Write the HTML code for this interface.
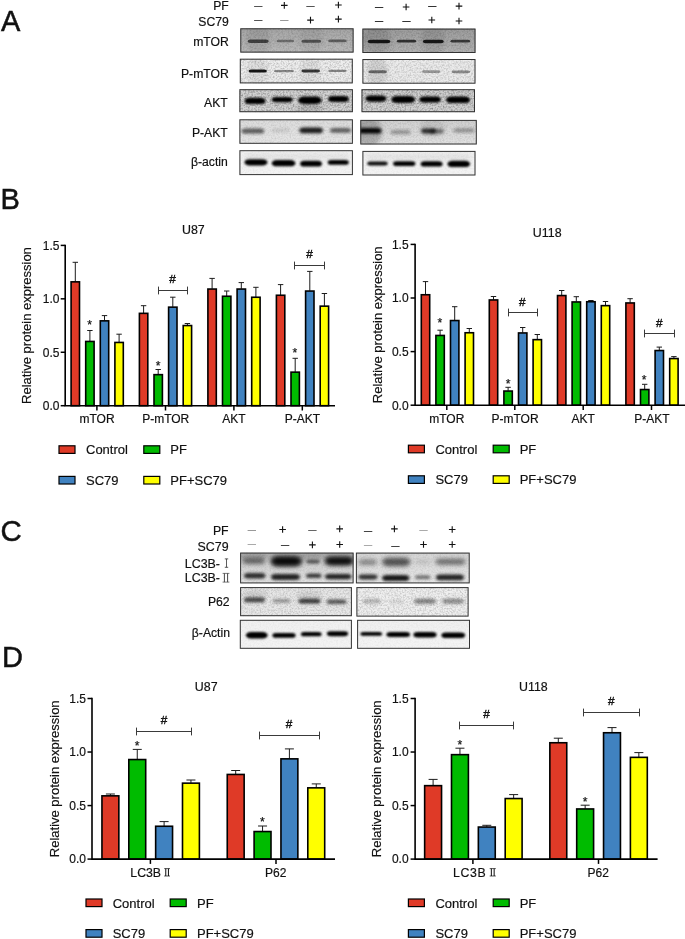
<!DOCTYPE html>
<html><head><meta charset="utf-8"><title>Figure</title>
<style>html,body{margin:0;padding:0;background:#fff;}body{width:685px;height:939px;overflow:hidden;font-family:"Liberation Sans",sans-serif;}svg{display:block;will-change:transform;}</style>
</head><body>
<svg width="685" height="939" viewBox="0 0 685 939" font-family="Liberation Sans, sans-serif">
<defs>
<filter id="bl0_5" x="-30%" y="-100%" width="160%" height="300%"><feGaussianBlur stdDeviation="0.5"/></filter>
<filter id="bl0_8" x="-30%" y="-100%" width="160%" height="300%"><feGaussianBlur stdDeviation="0.8"/></filter>
<filter id="bl1_2" x="-30%" y="-100%" width="160%" height="300%"><feGaussianBlur stdDeviation="1.2"/></filter>
<filter id="bl1_6" x="-30%" y="-100%" width="160%" height="300%"><feGaussianBlur stdDeviation="1.6"/></filter>
<filter id="bl2_2" x="-30%" y="-100%" width="160%" height="300%"><feGaussianBlur stdDeviation="2.2"/></filter>
<filter id="nz" x="0" y="0" width="100%" height="100%" color-interpolation-filters="sRGB"><feTurbulence type="fractalNoise" baseFrequency="0.6" numOctaves="2" seed="5"/><feColorMatrix type="matrix" values="0 0 0 0 0  0 0 0 0 0  0 0 0 0 0  1.1 0 0 0 -0.42"/></filter>
</defs>
<rect width="685" height="939" fill="#fff"/>
<text x="228.8" y="9.6" font-size="12.2" text-anchor="end" fill="#111" stroke="#111" stroke-width="0.18">PF</text>
<text x="228.8" y="26.1" font-size="12.2" text-anchor="end" fill="#111" stroke="#111" stroke-width="0.18">SC79</text>
<text x="228.8" y="45.7" font-size="12.2" text-anchor="end" fill="#111" stroke="#111" stroke-width="0.18">mTOR</text>
<text x="228.8" y="78.3" font-size="12.2" text-anchor="end" fill="#111" stroke="#111" stroke-width="0.18">P-mTOR</text>
<text x="227.8" y="107.3" font-size="12.2" text-anchor="end" fill="#111" stroke="#111" stroke-width="0.18">AKT</text>
<text x="227.8" y="137.3" font-size="12.2" text-anchor="end" fill="#111" stroke="#111" stroke-width="0.18">P-AKT</text>
<text x="227.8" y="165.6" font-size="12.2" text-anchor="end" fill="#111" stroke="#111" stroke-width="0.18">β-actin</text>
<path d="M254.1 6.5H262.5" stroke="#555" stroke-width="1"/>
<path d="M281.0 5.4H287.6M284.3 2.1V8.7" stroke="#111" stroke-width="1.1"/>
<path d="M306.3 6.5H314.7" stroke="#555" stroke-width="1"/>
<path d="M335.1 5.0H341.7M338.4 1.7V8.3" stroke="#111" stroke-width="1.1"/>
<path d="M254.1 20.5H262.5" stroke="#555" stroke-width="1"/>
<path d="M280.1 20.5H288.5" stroke="#999" stroke-width="1"/>
<path d="M307.2 20.1H313.8M310.5 16.8V23.4" stroke="#111" stroke-width="1.1"/>
<path d="M335.1 19.1H341.7M338.4 15.8V22.4" stroke="#111" stroke-width="1.1"/>
<path d="M374.9 7.5H383.3" stroke="#333" stroke-width="1"/>
<path d="M402.8 7.0H409.4M406.1 3.7V10.3" stroke="#111" stroke-width="1.1"/>
<path d="M428.1 6.5H436.5" stroke="#333" stroke-width="1"/>
<path d="M455.7 6.1H462.3M459.0 2.8V9.4" stroke="#111" stroke-width="1.1"/>
<path d="M374.9 21.5H383.3" stroke="#333" stroke-width="1"/>
<path d="M402.3 21.5H410.7" stroke="#333" stroke-width="1"/>
<path d="M428.5 20.0H435.1M431.8 16.7V23.3" stroke="#111" stroke-width="1.1"/>
<path d="M455.7 21.0H462.3M459.0 17.7V24.3" stroke="#111" stroke-width="1.1"/>
<linearGradient id="g1" x1="0" y1="0" x2="0" y2="1"><stop offset="0" stop-color="#a6a6a6"/><stop offset="1" stop-color="#bababa"/></linearGradient>
<clipPath id="c1"><rect x="240.3" y="28.3" width="113.30" height="24.30"/></clipPath>
<rect x="240.3" y="28.3" width="113.30" height="24.30" fill="url(#g1)"/>
<g clip-path="url(#c1)">
<rect x="246.0" y="25.0" width="24.0" height="30.0" rx="12.0" ry="15.0" fill="#000" opacity="0.07" filter="url(#bl2_2)"/>
<rect x="300.0" y="25.0" width="23.0" height="30.0" rx="11.5" ry="15.0" fill="#000" opacity="0.05" filter="url(#bl2_2)"/>
<rect x="247.6" y="39.5" width="21.1" height="3.4" rx="2.7" ry="1.7" fill="#000" opacity="0.6" filter="url(#bl0_5)"/>
<rect x="276.5" y="39.8" width="17.6" height="2.4" rx="1.9" ry="1.2" fill="#000" opacity="0.38" filter="url(#bl0_5)"/>
<rect x="301.4" y="39.8" width="19.8" height="3.0" rx="2.4" ry="1.5" fill="#000" opacity="0.52" filter="url(#bl0_5)"/>
<rect x="328.2" y="39.6" width="18.4" height="2.7" rx="2.2" ry="1.4" fill="#000" opacity="0.46" filter="url(#bl0_5)"/>
<rect x="240.3" y="28.3" width="113.30" height="24.30" filter="url(#nz)" opacity="0.28"/>
</g>
<rect x="240.8" y="28.8" width="112.30" height="23.30" fill="none" stroke="#333" stroke-width="1"/>
<linearGradient id="g2" x1="0" y1="0" x2="0" y2="1"><stop offset="0" stop-color="#9c9c9c"/><stop offset="1" stop-color="#b2b2b2"/></linearGradient>
<clipPath id="c2"><rect x="362.4" y="28.6" width="113.10" height="24.40"/></clipPath>
<rect x="362.4" y="28.6" width="113.10" height="24.40" fill="url(#g2)"/>
<g clip-path="url(#c2)">
<rect x="363.0" y="25.0" width="28.0" height="30.0" rx="14.0" ry="15.0" fill="#000" opacity="0.1" filter="url(#bl2_2)"/>
<rect x="421.0" y="25.0" width="24.0" height="30.0" rx="12.0" ry="15.0" fill="#000" opacity="0.08" filter="url(#bl2_2)"/>
<rect x="367.6" y="39.8" width="22.8" height="3.5" rx="2.8" ry="1.8" fill="#000" opacity="0.85" filter="url(#bl0_5)"/>
<rect x="396.9" y="39.8" width="19.3" height="2.8" rx="2.2" ry="1.4" fill="#000" opacity="0.7" filter="url(#bl0_5)"/>
<rect x="422.8" y="39.8" width="21.0" height="3.5" rx="2.8" ry="1.8" fill="#000" opacity="0.85" filter="url(#bl0_5)"/>
<rect x="450.5" y="39.8" width="19.6" height="2.8" rx="2.2" ry="1.4" fill="#000" opacity="0.65" filter="url(#bl0_5)"/>
<rect x="362.4" y="28.6" width="113.10" height="24.40" filter="url(#nz)" opacity="0.3"/>
</g>
<rect x="362.9" y="29.1" width="112.10" height="23.40" fill="none" stroke="#333" stroke-width="1"/>
<linearGradient id="g3" x1="0" y1="0" x2="0" y2="1"><stop offset="0" stop-color="#eeeeee"/><stop offset="1" stop-color="#ececec"/></linearGradient>
<clipPath id="c3"><rect x="239.8" y="58.7" width="113.00" height="24.70"/></clipPath>
<rect x="239.8" y="58.7" width="113.00" height="24.70" fill="url(#g3)"/>
<g clip-path="url(#c3)">
<rect x="247.0" y="56.0" width="21.0" height="30.0" rx="10.5" ry="15.0" fill="#000" opacity="0.06" filter="url(#bl2_2)"/>
<rect x="300.0" y="56.0" width="21.0" height="30.0" rx="10.5" ry="15.0" fill="#000" opacity="0.05" filter="url(#bl2_2)"/>
<rect x="248.5" y="69.4" width="18.4" height="3.2" rx="2.6" ry="1.6" fill="#000" opacity="0.9" filter="url(#bl0_5)"/>
<rect x="273.9" y="70.0" width="20.2" height="2.2" rx="1.8" ry="1.1" fill="#000" opacity="0.42" filter="url(#bl0_5)"/>
<rect x="301.4" y="69.6" width="18.6" height="2.8" rx="2.2" ry="1.4" fill="#000" opacity="0.75" filter="url(#bl0_5)"/>
<rect x="328.2" y="69.8" width="18.4" height="2.2" rx="1.8" ry="1.1" fill="#000" opacity="0.42" filter="url(#bl0_5)"/>
<rect x="239.8" y="58.7" width="113.00" height="24.70" filter="url(#nz)" opacity="0.4"/>
</g>
<rect x="240.3" y="59.2" width="112.00" height="23.70" fill="none" stroke="#333" stroke-width="1"/>
<linearGradient id="g4" x1="0" y1="0" x2="0" y2="1"><stop offset="0" stop-color="#ebebeb"/><stop offset="1" stop-color="#ebebeb"/></linearGradient>
<clipPath id="c4"><rect x="362.4" y="59" width="113.10" height="24.70"/></clipPath>
<rect x="362.4" y="59" width="113.10" height="24.70" fill="url(#g4)"/>
<g clip-path="url(#c4)">
<rect x="367.0" y="56.0" width="20.5" height="30.0" rx="10.2" ry="15.0" fill="#000" opacity="0.1" filter="url(#bl2_2)"/>
<rect x="368.5" y="70.3" width="18.4" height="3.0" rx="2.4" ry="1.5" fill="#000" opacity="0.5" filter="url(#bl0_5)"/>
<rect x="422.0" y="70.3" width="18.3" height="2.6" rx="2.1" ry="1.3" fill="#000" opacity="0.35" filter="url(#bl0_5)"/>
<rect x="451.7" y="70.4" width="18.4" height="2.8" rx="2.2" ry="1.4" fill="#000" opacity="0.4" filter="url(#bl0_5)"/>
<rect x="362.4" y="59" width="113.10" height="24.70" filter="url(#nz)" opacity="0.36"/>
</g>
<rect x="362.9" y="59.5" width="112.10" height="23.70" fill="none" stroke="#333" stroke-width="1"/>
<linearGradient id="g5" x1="0" y1="0" x2="0" y2="1"><stop offset="0" stop-color="#d2d2d2"/><stop offset="1" stop-color="#d2d2d2"/></linearGradient>
<clipPath id="c5"><rect x="239.4" y="89.2" width="113.50" height="23.00"/></clipPath>
<rect x="239.4" y="89.2" width="113.50" height="23.00" fill="url(#g5)"/>
<g clip-path="url(#c5)">
<rect x="297.0" y="103.0" width="26.0" height="10.0" rx="8.0" ry="5.0" fill="#000" opacity="0.12" filter="url(#bl2_2)"/>
<rect x="244.5" y="97.7" width="21.1" height="6.4" rx="5.1" ry="3.2" fill="#000" opacity="1" filter="url(#bl1_2)"/>
<rect x="271.7" y="96.9" width="21.1" height="5.4" rx="4.3" ry="2.7" fill="#000" opacity="1" filter="url(#bl1_2)"/>
<rect x="298.0" y="96.6" width="23.7" height="7.3" rx="5.8" ry="3.6" fill="#000" opacity="1" filter="url(#bl1_2)"/>
<rect x="328.1" y="96.0" width="20.7" height="5.9" rx="4.7" ry="2.9" fill="#000" opacity="1" filter="url(#bl1_2)"/>
<rect x="239.4" y="89.2" width="113.50" height="23.00" filter="url(#nz)" opacity="0.6"/>
</g>
<rect x="239.9" y="89.7" width="112.50" height="22.00" fill="none" stroke="#333" stroke-width="1"/>
<linearGradient id="g6" x1="0" y1="0" x2="0" y2="1"><stop offset="0" stop-color="#cecece"/><stop offset="1" stop-color="#d2d2d2"/></linearGradient>
<clipPath id="c6"><rect x="361.5" y="89.2" width="113.50" height="23.00"/></clipPath>
<rect x="361.5" y="89.2" width="113.50" height="23.00" fill="url(#g6)"/>
<g clip-path="url(#c6)">
<rect x="365.4" y="95.4" width="21.1" height="6.4" rx="5.1" ry="3.2" fill="#000" opacity="1" filter="url(#bl1_2)"/>
<rect x="391.3" y="96.0" width="23.8" height="6.9" rx="5.5" ry="3.4" fill="#000" opacity="1" filter="url(#bl1_2)"/>
<rect x="419.4" y="96.5" width="21.4" height="5.9" rx="4.7" ry="2.9" fill="#000" opacity="1" filter="url(#bl1_2)"/>
<rect x="446.0" y="96.5" width="24.1" height="6.6" rx="5.3" ry="3.3" fill="#000" opacity="1" filter="url(#bl1_2)"/>
<rect x="361.5" y="89.2" width="113.50" height="23.00" filter="url(#nz)" opacity="0.6"/>
</g>
<rect x="362.0" y="89.7" width="112.50" height="22.00" fill="none" stroke="#333" stroke-width="1"/>
<linearGradient id="g7" x1="0" y1="0" x2="0" y2="1"><stop offset="0" stop-color="#dcdcdc"/><stop offset="1" stop-color="#e6e6e6"/></linearGradient>
<clipPath id="c7"><rect x="239.4" y="119.3" width="113.50" height="24.50"/></clipPath>
<rect x="239.4" y="119.3" width="113.50" height="24.50" fill="url(#g7)"/>
<g clip-path="url(#c7)">
<rect x="241.5" y="128.4" width="22.8" height="5.2" rx="4.2" ry="2.6" fill="#000" opacity="0.6" filter="url(#bl1_6)"/>
<rect x="271.3" y="128.5" width="18.4" height="3.8" rx="3.0" ry="1.9" fill="#000" opacity="0.1" filter="url(#bl1_6)"/>
<rect x="299.3" y="127.6" width="23.7" height="5.6" rx="4.5" ry="2.8" fill="#000" opacity="0.88" filter="url(#bl1_6)"/>
<rect x="330.0" y="128.0" width="21.0" height="4.8" rx="3.8" ry="2.4" fill="#000" opacity="0.58" filter="url(#bl1_6)"/>
<rect x="239.4" y="119.3" width="113.50" height="24.50" filter="url(#nz)" opacity="0.18"/>
</g>
<rect x="239.9" y="119.8" width="112.50" height="23.50" fill="none" stroke="#333" stroke-width="1"/>
<linearGradient id="g8" x1="0" y1="0" x2="0" y2="1"><stop offset="0" stop-color="#cfcfcf"/><stop offset="1" stop-color="#e2e2e2"/></linearGradient>
<clipPath id="c8"><rect x="360.3" y="119.9" width="116.50" height="24.60"/></clipPath>
<rect x="360.3" y="119.9" width="116.50" height="24.60" fill="url(#g8)"/>
<g clip-path="url(#c8)">
<rect x="355.0" y="117.0" width="27.0" height="30.0" rx="13.5" ry="15.0" fill="#000" opacity="0.22" filter="url(#bl2_2)"/>
<rect x="420.0" y="118.0" width="25.0" height="20.0" rx="12.5" ry="10.0" fill="#000" opacity="0.07" filter="url(#bl2_2)"/>
<rect x="358.0" y="128.0" width="23.5" height="5.6" rx="4.5" ry="2.8" fill="#000" opacity="1" filter="url(#bl1_6)"/>
<rect x="390.4" y="130.1" width="20.2" height="4.2" rx="3.4" ry="2.1" fill="#000" opacity="0.3" filter="url(#bl1_6)"/>
<rect x="421.0" y="128.6" width="15.0" height="4.8" rx="3.8" ry="2.4" fill="#000" opacity="0.8" filter="url(#bl1_6)"/>
<rect x="430.0" y="129.2" width="13.8" height="4.2" rx="3.4" ry="2.1" fill="#000" opacity="0.5" filter="url(#bl1_6)"/>
<rect x="453.5" y="128.6" width="21.0" height="3.6" rx="2.9" ry="1.8" fill="#000" opacity="0.35" filter="url(#bl1_6)"/>
<rect x="360.3" y="119.9" width="116.50" height="24.60" filter="url(#nz)" opacity="0.2"/>
</g>
<rect x="360.8" y="120.4" width="115.50" height="23.60" fill="none" stroke="#333" stroke-width="1"/>
<linearGradient id="g9" x1="0" y1="0" x2="0" y2="1"><stop offset="0" stop-color="#f0f0f0"/><stop offset="1" stop-color="#f3f3f3"/></linearGradient>
<clipPath id="c9"><rect x="239.4" y="150.2" width="113.50" height="24.90"/></clipPath>
<rect x="239.4" y="150.2" width="113.50" height="24.90" fill="url(#g9)"/>
<g clip-path="url(#c9)">
<rect x="244.5" y="159.2" width="22.9" height="6.3" rx="5.0" ry="3.1" fill="#000" opacity="1" filter="url(#bl1_2)"/>
<rect x="271.7" y="160.0" width="23.7" height="6.3" rx="5.0" ry="3.1" fill="#000" opacity="1" filter="url(#bl1_2)"/>
<rect x="300.1" y="160.8" width="21.9" height="5.8" rx="4.6" ry="2.9" fill="#000" opacity="1" filter="url(#bl1_2)"/>
<rect x="327.7" y="159.9" width="21.1" height="4.9" rx="3.9" ry="2.4" fill="#000" opacity="1" filter="url(#bl1_2)"/>
<rect x="244.0" y="154.0" width="106.0" height="5.0" rx="4.0" ry="2.5" fill="#000" opacity="0.06" filter="url(#bl2_2)"/>
<rect x="239.4" y="150.2" width="113.50" height="24.90" filter="url(#nz)" opacity="0.08"/>
</g>
<rect x="239.9" y="150.7" width="112.50" height="23.90" fill="none" stroke="#333" stroke-width="1"/>
<linearGradient id="g10" x1="0" y1="0" x2="0" y2="1"><stop offset="0" stop-color="#efefef"/><stop offset="1" stop-color="#f3f3f3"/></linearGradient>
<clipPath id="c10"><rect x="362.4" y="150.9" width="113.10" height="24.60"/></clipPath>
<rect x="362.4" y="150.9" width="113.10" height="24.60" fill="url(#g10)"/>
<g clip-path="url(#c10)">
<rect x="367.2" y="161.6" width="20.5" height="3.9" rx="3.1" ry="1.9" fill="#000" opacity="0.95" filter="url(#bl1_2)"/>
<rect x="393.1" y="161.2" width="22.3" height="4.9" rx="3.9" ry="2.4" fill="#000" opacity="1" filter="url(#bl1_2)"/>
<rect x="420.6" y="161.2" width="22.0" height="5.4" rx="4.3" ry="2.7" fill="#000" opacity="1" filter="url(#bl1_2)"/>
<rect x="447.4" y="160.8" width="22.7" height="6.3" rx="5.0" ry="3.1" fill="#000" opacity="1" filter="url(#bl1_2)"/>
<rect x="366.0" y="154.5" width="105.0" height="5.0" rx="4.0" ry="2.5" fill="#000" opacity="0.06" filter="url(#bl2_2)"/>
<rect x="362.4" y="150.9" width="113.10" height="24.60" filter="url(#nz)" opacity="0.08"/>
</g>
<rect x="362.9" y="151.4" width="112.10" height="23.60" fill="none" stroke="#333" stroke-width="1"/>
<path d="M75.30 281.60V262.30M72.60 262.30H78.00" stroke="#1c1c1c" stroke-width="1.0" fill="none"/>
<rect x="71.10" y="281.85" width="8.40" height="123.85" fill="#df3a27" stroke="#000" stroke-width="1.6"/>
<path d="M89.90 341.20V330.50M87.20 330.50H92.60" stroke="#1c1c1c" stroke-width="1.0" fill="none"/>
<rect x="85.70" y="341.45" width="8.40" height="64.25" fill="#00bb00" stroke="#000" stroke-width="1.6"/>
<path d="M104.50 320.60V315.60M101.80 315.60H107.20" stroke="#1c1c1c" stroke-width="1.0" fill="none"/>
<rect x="100.30" y="320.85" width="8.40" height="84.85" fill="#4082c0" stroke="#000" stroke-width="1.6"/>
<path d="M119.10 342.20V334.20M116.40 334.20H121.80" stroke="#1c1c1c" stroke-width="1.0" fill="none"/>
<rect x="114.90" y="342.45" width="8.40" height="63.25" fill="#ffff00" stroke="#000" stroke-width="1.6"/>
<path d="M143.60 313.10V305.70M140.90 305.70H146.30" stroke="#1c1c1c" stroke-width="1.0" fill="none"/>
<rect x="139.40" y="313.35" width="8.40" height="92.35" fill="#df3a27" stroke="#000" stroke-width="1.6"/>
<path d="M158.20 374.40V369.50M155.50 369.50H160.90" stroke="#1c1c1c" stroke-width="1.0" fill="none"/>
<rect x="154.00" y="374.65" width="8.40" height="31.05" fill="#00bb00" stroke="#000" stroke-width="1.6"/>
<path d="M172.80 306.90V297.20M170.10 297.20H175.50" stroke="#1c1c1c" stroke-width="1.0" fill="none"/>
<rect x="168.60" y="307.15" width="8.40" height="98.55" fill="#4082c0" stroke="#000" stroke-width="1.6"/>
<path d="M187.40 325.30V323.50M184.70 323.50H190.10" stroke="#1c1c1c" stroke-width="1.0" fill="none"/>
<rect x="183.20" y="325.55" width="8.40" height="80.15" fill="#ffff00" stroke="#000" stroke-width="1.6"/>
<path d="M212.10 288.80V278.40M209.40 278.40H214.80" stroke="#1c1c1c" stroke-width="1.0" fill="none"/>
<rect x="207.90" y="289.05" width="8.40" height="116.65" fill="#df3a27" stroke="#000" stroke-width="1.6"/>
<path d="M226.70 296.00V291.00M224.00 291.00H229.40" stroke="#1c1c1c" stroke-width="1.0" fill="none"/>
<rect x="222.50" y="296.25" width="8.40" height="109.45" fill="#00bb00" stroke="#000" stroke-width="1.6"/>
<path d="M241.30 288.80V282.60M238.60 282.60H244.00" stroke="#1c1c1c" stroke-width="1.0" fill="none"/>
<rect x="237.10" y="289.05" width="8.40" height="116.65" fill="#4082c0" stroke="#000" stroke-width="1.6"/>
<path d="M255.90 297.00V287.30M253.20 287.30H258.60" stroke="#1c1c1c" stroke-width="1.0" fill="none"/>
<rect x="251.70" y="297.25" width="8.40" height="108.45" fill="#ffff00" stroke="#000" stroke-width="1.6"/>
<path d="M280.60 295.00V284.60M277.90 284.60H283.30" stroke="#1c1c1c" stroke-width="1.0" fill="none"/>
<rect x="276.40" y="295.25" width="8.40" height="110.45" fill="#df3a27" stroke="#000" stroke-width="1.6"/>
<path d="M295.20 371.90V358.30M292.50 358.30H297.90" stroke="#1c1c1c" stroke-width="1.0" fill="none"/>
<rect x="291.00" y="372.15" width="8.40" height="33.55" fill="#00bb00" stroke="#000" stroke-width="1.6"/>
<path d="M309.80 290.80V271.40M307.10 271.40H312.50" stroke="#1c1c1c" stroke-width="1.0" fill="none"/>
<rect x="305.60" y="291.05" width="8.40" height="114.65" fill="#4082c0" stroke="#000" stroke-width="1.6"/>
<path d="M324.40 305.90V293.50M321.70 293.50H327.10" stroke="#1c1c1c" stroke-width="1.0" fill="none"/>
<rect x="320.20" y="306.15" width="8.40" height="99.55" fill="#ffff00" stroke="#000" stroke-width="1.6"/>
<path d="M65.20 244.75V405.70H335.00" stroke="#000" stroke-width="1.6" fill="none"/>
<path d="M60.70 405.70H65.20" stroke="#000" stroke-width="1.5"/>
<text x="59.4" y="410.00" font-size="12" text-anchor="end" fill="#111" stroke="#111" stroke-width="0.18">0.0</text>
<path d="M60.70 352.27H65.20" stroke="#000" stroke-width="1.5"/>
<text x="59.4" y="356.57" font-size="12" text-anchor="end" fill="#111" stroke="#111" stroke-width="0.18">0.5</text>
<path d="M60.70 298.83H65.20" stroke="#000" stroke-width="1.5"/>
<text x="59.4" y="303.13" font-size="12" text-anchor="end" fill="#111" stroke="#111" stroke-width="0.18">1.0</text>
<path d="M60.70 245.40H65.20" stroke="#000" stroke-width="1.5"/>
<text x="59.4" y="249.70" font-size="12" text-anchor="end" fill="#111" stroke="#111" stroke-width="0.18">1.5</text>
<path d="M96.90 405.70V410.50" stroke="#000" stroke-width="1.5"/>
<path d="M165.50 405.70V410.50" stroke="#000" stroke-width="1.5"/>
<path d="M233.90 405.70V410.50" stroke="#000" stroke-width="1.5"/>
<path d="M302.30 405.70V410.50" stroke="#000" stroke-width="1.5"/>
<text x="97" y="423" font-size="12" text-anchor="middle" fill="#111" stroke="#111" stroke-width="0.18">mTOR</text>
<text x="165.7" y="423" font-size="12" text-anchor="middle" fill="#111" stroke="#111" stroke-width="0.18">P-mTOR</text>
<text x="234" y="423" font-size="12" text-anchor="middle" fill="#111" stroke="#111" stroke-width="0.18">AKT</text>
<text x="302.3" y="423" font-size="12" text-anchor="middle" fill="#111" stroke="#111" stroke-width="0.18">P-AKT</text>
<text x="193.4" y="234" font-size="12.4" text-anchor="middle" fill="#111" stroke="#111" stroke-width="0.18">U87</text>
<text transform="translate(31,325.55) rotate(-90)" font-size="13" text-anchor="middle" fill="#111" stroke="#111" stroke-width="0.18">Relative protein expression</text>
<path d="M158.50 286.60V294.40M187.50 286.60V294.40M158.50 290.50H187.50" stroke="#3a3a3a" stroke-width="1" fill="none"/>
<text x="172.6" y="282.80" font-size="11.8" text-anchor="middle" fill="#111" stroke="#111" stroke-width="0.4">#</text>
<path d="M294.50 261.60V269.40M324.50 261.60V269.40M294.50 265.50H324.50" stroke="#3a3a3a" stroke-width="1" fill="none"/>
<text x="309.5" y="257.80" font-size="11.8" text-anchor="middle" fill="#111" stroke="#111" stroke-width="0.4">#</text>
<text x="89.7" y="328.90" font-size="12.2" text-anchor="middle" fill="#111" stroke="#111" stroke-width="0.2">*</text>
<text x="158.2" y="370.30" font-size="12.2" text-anchor="middle" fill="#111" stroke="#111" stroke-width="0.2">*</text>
<text x="294.8" y="356.70" font-size="12.2" text-anchor="middle" fill="#111" stroke="#111" stroke-width="0.2">*</text>
<path d="M425.50 294.50V281.60M422.80 281.60H428.20" stroke="#1c1c1c" stroke-width="1.0" fill="none"/>
<rect x="421.30" y="294.75" width="8.40" height="110.45" fill="#df3a27" stroke="#000" stroke-width="1.6"/>
<path d="M440.10 335.20V330.20M437.40 330.20H442.80" stroke="#1c1c1c" stroke-width="1.0" fill="none"/>
<rect x="435.90" y="335.45" width="8.40" height="69.75" fill="#00bb00" stroke="#000" stroke-width="1.6"/>
<path d="M454.70 320.30V306.70M452.00 306.70H457.40" stroke="#1c1c1c" stroke-width="1.0" fill="none"/>
<rect x="450.50" y="320.55" width="8.40" height="84.65" fill="#4082c0" stroke="#000" stroke-width="1.6"/>
<path d="M469.30 332.50V328.50M466.60 328.50H472.00" stroke="#1c1c1c" stroke-width="1.0" fill="none"/>
<rect x="465.10" y="332.75" width="8.40" height="72.45" fill="#ffff00" stroke="#000" stroke-width="1.6"/>
<path d="M493.50 299.70V296.50M490.80 296.50H496.20" stroke="#1c1c1c" stroke-width="1.0" fill="none"/>
<rect x="489.30" y="299.95" width="8.40" height="105.25" fill="#df3a27" stroke="#000" stroke-width="1.6"/>
<path d="M508.10 390.80V387.30M505.40 387.30H510.80" stroke="#1c1c1c" stroke-width="1.0" fill="none"/>
<rect x="503.90" y="391.05" width="8.40" height="14.15" fill="#00bb00" stroke="#000" stroke-width="1.6"/>
<path d="M522.70 332.70V327.50M520.00 327.50H525.40" stroke="#1c1c1c" stroke-width="1.0" fill="none"/>
<rect x="518.50" y="332.95" width="8.40" height="72.25" fill="#4082c0" stroke="#000" stroke-width="1.6"/>
<path d="M537.30 339.40V334.50M534.60 334.50H540.00" stroke="#1c1c1c" stroke-width="1.0" fill="none"/>
<rect x="533.10" y="339.65" width="8.40" height="65.55" fill="#ffff00" stroke="#000" stroke-width="1.6"/>
<path d="M561.70 295.30V290.50M559.00 290.50H564.40" stroke="#1c1c1c" stroke-width="1.0" fill="none"/>
<rect x="557.50" y="295.55" width="8.40" height="109.65" fill="#df3a27" stroke="#000" stroke-width="1.6"/>
<path d="M576.30 301.70V296.70M573.60 296.70H579.00" stroke="#1c1c1c" stroke-width="1.0" fill="none"/>
<rect x="572.10" y="301.95" width="8.40" height="103.25" fill="#00bb00" stroke="#000" stroke-width="1.6"/>
<path d="M590.90 301.50V300.50M588.20 300.50H593.60" stroke="#1c1c1c" stroke-width="1.0" fill="none"/>
<rect x="586.70" y="301.75" width="8.40" height="103.45" fill="#4082c0" stroke="#000" stroke-width="1.6"/>
<path d="M605.50 305.40V301.50M602.80 301.50H608.20" stroke="#1c1c1c" stroke-width="1.0" fill="none"/>
<rect x="601.30" y="305.65" width="8.40" height="99.55" fill="#ffff00" stroke="#000" stroke-width="1.6"/>
<path d="M630.10 302.70V298.70M627.40 298.70H632.80" stroke="#1c1c1c" stroke-width="1.0" fill="none"/>
<rect x="625.90" y="302.95" width="8.40" height="102.25" fill="#df3a27" stroke="#000" stroke-width="1.6"/>
<path d="M644.70 389.30V384.30M642.00 384.30H647.40" stroke="#1c1c1c" stroke-width="1.0" fill="none"/>
<rect x="640.50" y="389.55" width="8.40" height="15.65" fill="#00bb00" stroke="#000" stroke-width="1.6"/>
<path d="M659.30 350.30V347.10M656.60 347.10H662.00" stroke="#1c1c1c" stroke-width="1.0" fill="none"/>
<rect x="655.10" y="350.55" width="8.40" height="54.65" fill="#4082c0" stroke="#000" stroke-width="1.6"/>
<path d="M673.90 358.30V356.60M671.20 356.60H676.60" stroke="#1c1c1c" stroke-width="1.0" fill="none"/>
<rect x="669.70" y="358.55" width="8.40" height="46.65" fill="#ffff00" stroke="#000" stroke-width="1.6"/>
<path d="M415.10 243.75V405.20H685.00" stroke="#000" stroke-width="1.6" fill="none"/>
<path d="M410.60 405.20H415.10" stroke="#000" stroke-width="1.5"/>
<text x="408.6" y="409.50" font-size="12" text-anchor="end" fill="#111" stroke="#111" stroke-width="0.18">0.0</text>
<path d="M410.60 351.60H415.10" stroke="#000" stroke-width="1.5"/>
<text x="408.6" y="355.90" font-size="12" text-anchor="end" fill="#111" stroke="#111" stroke-width="0.18">0.5</text>
<path d="M410.60 298.00H415.10" stroke="#000" stroke-width="1.5"/>
<text x="408.6" y="302.30" font-size="12" text-anchor="end" fill="#111" stroke="#111" stroke-width="0.18">1.0</text>
<path d="M410.60 244.40H415.10" stroke="#000" stroke-width="1.5"/>
<text x="408.6" y="248.70" font-size="12" text-anchor="end" fill="#111" stroke="#111" stroke-width="0.18">1.5</text>
<path d="M446.80 405.20V410.00" stroke="#000" stroke-width="1.5"/>
<path d="M514.80 405.20V410.00" stroke="#000" stroke-width="1.5"/>
<path d="M583.20 405.20V410.00" stroke="#000" stroke-width="1.5"/>
<path d="M651.50 405.20V410.00" stroke="#000" stroke-width="1.5"/>
<text x="446.8" y="422.5" font-size="12" text-anchor="middle" fill="#111" stroke="#111" stroke-width="0.18">mTOR</text>
<text x="515" y="422.5" font-size="12" text-anchor="middle" fill="#111" stroke="#111" stroke-width="0.18">P-mTOR</text>
<text x="583.2" y="422.5" font-size="12" text-anchor="middle" fill="#111" stroke="#111" stroke-width="0.18">AKT</text>
<text x="651.8" y="422.5" font-size="12" text-anchor="middle" fill="#111" stroke="#111" stroke-width="0.18">P-AKT</text>
<text x="547.2" y="237.4" font-size="12.4" text-anchor="middle" fill="#111" stroke="#111" stroke-width="0.18">U118</text>
<text transform="translate(381.8,324.80) rotate(-90)" font-size="13" text-anchor="middle" fill="#111" stroke="#111" stroke-width="0.18">Relative protein expression</text>
<path d="M508.50 308.60V316.40M537.50 308.60V316.40M508.50 312.50H537.50" stroke="#3a3a3a" stroke-width="1" fill="none"/>
<text x="522.3" y="305.80" font-size="11.8" text-anchor="middle" fill="#111" stroke="#111" stroke-width="0.4">#</text>
<path d="M644.50 329.60V337.40M674.50 329.60V337.40M644.50 333.50H674.50" stroke="#3a3a3a" stroke-width="1" fill="none"/>
<text x="659.2" y="326.60" font-size="11.8" text-anchor="middle" fill="#111" stroke="#111" stroke-width="0.4">#</text>
<text x="439.9" y="326.90" font-size="12.2" text-anchor="middle" fill="#111" stroke="#111" stroke-width="0.2">*</text>
<text x="508.1" y="387.70" font-size="12.2" text-anchor="middle" fill="#111" stroke="#111" stroke-width="0.2">*</text>
<text x="644" y="384.20" font-size="12.2" text-anchor="middle" fill="#111" stroke="#111" stroke-width="0.2">*</text>
<rect x="59.00" y="445.80" width="16.00" height="7.60" fill="#df3a27" stroke="#000" stroke-width="1.2"/>
<text x="86" y="454.4" font-size="13" text-anchor="start" fill="#111" stroke="#111" stroke-width="0.18">Control</text>
<rect x="143.80" y="445.80" width="16.00" height="7.60" fill="#00bb00" stroke="#000" stroke-width="1.2"/>
<text x="170.3" y="454.4" font-size="13" text-anchor="start" fill="#111" stroke="#111" stroke-width="0.18">PF</text>
<rect x="59.00" y="476.40" width="16.00" height="7.60" fill="#4082c0" stroke="#000" stroke-width="1.2"/>
<text x="86" y="484.8" font-size="13" text-anchor="start" fill="#111" stroke="#111" stroke-width="0.18">SC79</text>
<rect x="143.80" y="476.40" width="16.00" height="7.60" fill="#ffff00" stroke="#000" stroke-width="1.2"/>
<text x="170.3" y="484.8" font-size="13" text-anchor="start" fill="#111" stroke="#111" stroke-width="0.18">PF+SC79</text>
<rect x="408.40" y="445.20" width="16.00" height="7.60" fill="#df3a27" stroke="#000" stroke-width="1.2"/>
<text x="435.4" y="453.8" font-size="13" text-anchor="start" fill="#111" stroke="#111" stroke-width="0.18">Control</text>
<rect x="493.20" y="445.20" width="16.00" height="7.60" fill="#00bb00" stroke="#000" stroke-width="1.2"/>
<text x="519.7" y="453.8" font-size="13" text-anchor="start" fill="#111" stroke="#111" stroke-width="0.18">PF</text>
<rect x="408.40" y="475.80" width="16.00" height="7.60" fill="#4082c0" stroke="#000" stroke-width="1.2"/>
<text x="435.4" y="484.2" font-size="13" text-anchor="start" fill="#111" stroke="#111" stroke-width="0.18">SC79</text>
<rect x="493.20" y="475.80" width="16.00" height="7.60" fill="#ffff00" stroke="#000" stroke-width="1.2"/>
<text x="519.7" y="484.2" font-size="13" text-anchor="start" fill="#111" stroke="#111" stroke-width="0.18">PF+SC79</text>
<text x="228.6" y="534.5" font-size="12.3" text-anchor="end" fill="#111" stroke="#111" stroke-width="0.18">PF</text>
<text x="228.6" y="550.7" font-size="12.4" text-anchor="end" fill="#111" stroke="#111" stroke-width="0.18">SC79</text>
<text x="184.8" y="567.7" font-size="12.4" text-anchor="start" fill="#111" stroke="#111" stroke-width="0.18">LC3B-</text>
<text x="184.8" y="582.2" font-size="12.4" text-anchor="start" fill="#111" stroke="#111" stroke-width="0.18">LC3B-</text>
<path d="M224.8 558.9H228.2M224.8 567.3H228.2M226.5 558.9V567.3" stroke="#333" stroke-width="0.8" fill="none"/>
<path d="M222.6 573.4H229.4M222.6 582.1H229.4" stroke="#444" stroke-width="0.7" fill="none"/><path d="M224.4 573.4V582.1M227.6 573.4V582.1" stroke="#333" stroke-width="0.9" fill="none"/>
<text x="229.6" y="606.3" font-size="12.2" text-anchor="end" fill="#111" stroke="#111" stroke-width="0.18">P62</text>
<text x="230" y="636.6" font-size="12.2" text-anchor="end" fill="#111" stroke="#111" stroke-width="0.18">β-Actin</text>
<path d="M247.6 530.5H256.0" stroke="#999" stroke-width="1"/>
<path d="M279.3 529.5H285.9M282.6 526.2V532.8" stroke="#111" stroke-width="1.1"/>
<path d="M308.2 530.5H316.6" stroke="#666" stroke-width="1"/>
<path d="M336.4 528.9H343.0M339.7 525.6V532.2" stroke="#111" stroke-width="1.1"/>
<path d="M363.9 531.5H372.3" stroke="#444" stroke-width="1"/>
<path d="M391.1 528.9H397.7M394.4 525.6V532.2" stroke="#111" stroke-width="1.1"/>
<path d="M419.3 530.5H427.7" stroke="#aaa" stroke-width="1"/>
<path d="M448.9 529.5H455.5M452.2 526.2V532.8" stroke="#111" stroke-width="1.1"/>
<path d="M247.6 544.5H256.0" stroke="#aaa" stroke-width="1"/>
<path d="M280.9 545.5H289.3" stroke="#444" stroke-width="1"/>
<path d="M309.1 544.9H315.7M312.4 541.6V548.2" stroke="#111" stroke-width="1.1"/>
<path d="M336.4 544.5H343.0M339.7 541.2V547.8" stroke="#111" stroke-width="1.1"/>
<path d="M363.9 545.5H372.3" stroke="#aaa" stroke-width="1"/>
<path d="M391.2 546.5H399.6" stroke="#444" stroke-width="1"/>
<path d="M420.2 544.5H426.8M423.5 541.2V547.8" stroke="#111" stroke-width="1.1"/>
<path d="M448.9 544.5H455.5M452.2 541.2V547.8" stroke="#111" stroke-width="1.1"/>
<linearGradient id="g11" x1="0" y1="0" x2="0" y2="1"><stop offset="0" stop-color="#c4c4c4"/><stop offset="1" stop-color="#e2e2e2"/></linearGradient>
<clipPath id="c11"><rect x="240.1" y="552.6" width="113.50" height="30.80"/></clipPath>
<rect x="240.1" y="552.6" width="113.50" height="30.80" fill="url(#g11)"/>
<g clip-path="url(#c11)">
<rect x="236.0" y="553.0" width="122.0" height="5.0" rx="4.0" ry="2.5" fill="#000" opacity="0.16" filter="url(#bl2_2)"/>
<rect x="241.0" y="554.0" width="25.0" height="6.0" rx="4.8" ry="3.0" fill="#000" opacity="0.1" filter="url(#bl2_2)"/>
<rect x="300.0" y="554.0" width="22.0" height="6.0" rx="4.8" ry="3.0" fill="#000" opacity="0.1" filter="url(#bl2_2)"/>
<rect x="242.5" y="558.2" width="22.5" height="5.5" rx="4.4" ry="2.8" fill="#000" opacity="0.55" filter="url(#bl2_2)"/>
<rect x="271.5" y="557.0" width="29.5" height="8.5" rx="6.8" ry="4.2" fill="#000" opacity="0.92" filter="url(#bl2_2)"/>
<rect x="270.0" y="555.8" width="33.0" height="11.0" rx="8.8" ry="5.5" fill="#000" opacity="0.45" filter="url(#bl2_2)"/>
<rect x="306.0" y="559.7" width="14.0" height="3.8" rx="3.0" ry="1.9" fill="#000" opacity="0.62" filter="url(#bl1_6)"/>
<rect x="325.5" y="557.5" width="27.5" height="7.0" rx="5.6" ry="3.5" fill="#000" opacity="0.92" filter="url(#bl2_2)"/>
<rect x="324.0" y="556.2" width="30.0" height="9.5" rx="7.6" ry="4.8" fill="#000" opacity="0.45" filter="url(#bl2_2)"/>
<rect x="244.0" y="572.9" width="21.5" height="5.5" rx="4.4" ry="2.8" fill="#000" opacity="0.8" filter="url(#bl1_6)"/>
<rect x="271.0" y="574.0" width="29.0" height="6.0" rx="4.8" ry="3.0" fill="#000" opacity="0.85" filter="url(#bl1_6)"/>
<rect x="306.0" y="573.8" width="15.5" height="4.0" rx="3.2" ry="2.0" fill="#000" opacity="0.8" filter="url(#bl1_6)"/>
<rect x="325.0" y="574.0" width="26.5" height="5.2" rx="4.2" ry="2.6" fill="#000" opacity="0.85" filter="url(#bl1_6)"/>
<rect x="240.1" y="552.6" width="113.50" height="30.80" filter="url(#nz)" opacity="0.15"/>
</g>
<rect x="240.6" y="553.1" width="112.50" height="29.80" fill="none" stroke="#333" stroke-width="1"/>
<linearGradient id="g12" x1="0" y1="0" x2="0" y2="1"><stop offset="0" stop-color="#d4d4d4"/><stop offset="1" stop-color="#e6e6e6"/></linearGradient>
<clipPath id="c12"><rect x="355.9" y="552.6" width="113.80" height="30.80"/></clipPath>
<rect x="355.9" y="552.6" width="113.80" height="30.80" fill="url(#g12)"/>
<g clip-path="url(#c12)">
<rect x="358.5" y="559.5" width="18.5" height="5.5" rx="4.4" ry="2.8" fill="#000" opacity="0.4" filter="url(#bl2_2)"/>
<rect x="382.0" y="557.8" width="28.5" height="8.5" rx="6.8" ry="4.2" fill="#000" opacity="0.62" filter="url(#bl2_2)"/>
<rect x="415.5" y="560.0" width="15.0" height="4.0" rx="3.2" ry="2.0" fill="#000" opacity="0.12" filter="url(#bl2_2)"/>
<rect x="435.5" y="558.8" width="30.0" height="6.0" rx="4.8" ry="3.0" fill="#000" opacity="0.5" filter="url(#bl2_2)"/>
<rect x="358.5" y="574.6" width="19.0" height="4.8" rx="3.8" ry="2.4" fill="#000" opacity="0.8" filter="url(#bl1_6)"/>
<rect x="382.0" y="574.9" width="27.5" height="6.2" rx="5.0" ry="3.1" fill="#000" opacity="0.9" filter="url(#bl1_6)"/>
<rect x="415.0" y="575.4" width="15.5" height="3.6" rx="2.9" ry="1.8" fill="#000" opacity="0.55" filter="url(#bl1_6)"/>
<rect x="436.0" y="574.6" width="28.0" height="5.6" rx="4.5" ry="2.8" fill="#000" opacity="0.85" filter="url(#bl1_6)"/>
<rect x="355.9" y="552.6" width="113.80" height="30.80" filter="url(#nz)" opacity="0.15"/>
</g>
<rect x="356.4" y="553.1" width="112.80" height="29.80" fill="none" stroke="#333" stroke-width="1"/>
<linearGradient id="g13" x1="0" y1="0" x2="0" y2="1"><stop offset="0" stop-color="#e6e6e6"/><stop offset="1" stop-color="#e8e8e8"/></linearGradient>
<clipPath id="c13"><rect x="240.1" y="587.1" width="111.80" height="29.10"/></clipPath>
<rect x="240.1" y="587.1" width="111.80" height="29.10" fill="url(#g13)"/>
<g clip-path="url(#c13)">
<rect x="244.0" y="597.6" width="21.0" height="4.6" rx="3.7" ry="2.3" fill="#000" opacity="0.7" filter="url(#bl1_6)"/>
<rect x="272.5" y="598.9" width="18.0" height="3.8" rx="3.0" ry="1.9" fill="#000" opacity="0.35" filter="url(#bl1_6)"/>
<rect x="298.5" y="598.8" width="22.0" height="4.8" rx="3.8" ry="2.4" fill="#000" opacity="0.75" filter="url(#bl1_6)"/>
<rect x="326.5" y="599.4" width="20.0" height="4.6" rx="3.7" ry="2.3" fill="#000" opacity="0.62" filter="url(#bl1_6)"/>
<rect x="243.0" y="590.0" width="24.0" height="10.0" rx="8.0" ry="5.0" fill="#000" opacity="0.08" filter="url(#bl2_2)"/>
<rect x="297.0" y="591.0" width="25.0" height="10.0" rx="8.0" ry="5.0" fill="#000" opacity="0.08" filter="url(#bl2_2)"/>
<rect x="240.1" y="587.1" width="111.80" height="29.10" filter="url(#nz)" opacity="0.32"/>
</g>
<rect x="240.6" y="587.6" width="110.80" height="28.10" fill="none" stroke="#333" stroke-width="1"/>
<linearGradient id="g14" x1="0" y1="0" x2="0" y2="1"><stop offset="0" stop-color="#efefef"/><stop offset="1" stop-color="#efefef"/></linearGradient>
<clipPath id="c14"><rect x="356.4" y="587.1" width="112.20" height="29.50"/></clipPath>
<rect x="356.4" y="587.1" width="112.20" height="29.50" fill="url(#g14)"/>
<g clip-path="url(#c14)">
<rect x="362.5" y="598.8" width="18.5" height="5.0" rx="4.0" ry="2.5" fill="#000" opacity="0.22" filter="url(#bl1_6)"/>
<rect x="390.0" y="599.4" width="14.5" height="4.5" rx="3.6" ry="2.2" fill="#000" opacity="0.08" filter="url(#bl1_6)"/>
<rect x="414.0" y="598.8" width="22.0" height="5.0" rx="4.0" ry="2.5" fill="#000" opacity="0.45" filter="url(#bl1_6)"/>
<rect x="442.0" y="598.8" width="22.0" height="5.0" rx="4.0" ry="2.5" fill="#000" opacity="0.4" filter="url(#bl1_6)"/>
<rect x="356.4" y="587.1" width="112.20" height="29.50" filter="url(#nz)" opacity="0.36"/>
</g>
<rect x="356.9" y="587.6" width="111.20" height="28.50" fill="none" stroke="#333" stroke-width="1"/>
<linearGradient id="g15" x1="0" y1="0" x2="0" y2="1"><stop offset="0" stop-color="#f0f0f0"/><stop offset="1" stop-color="#f4f4f4"/></linearGradient>
<clipPath id="c15"><rect x="239.8" y="619.8" width="112.10" height="29.00"/></clipPath>
<rect x="239.8" y="619.8" width="112.10" height="29.00" fill="url(#g15)"/>
<g clip-path="url(#c15)">
<rect x="245.9" y="632.1" width="21.7" height="6.3" rx="5.0" ry="3.1" fill="#000" opacity="1" filter="url(#bl1_2)"/>
<rect x="272.4" y="633.1" width="23.2" height="4.7" rx="3.8" ry="2.3" fill="#000" opacity="1" filter="url(#bl1_2)"/>
<rect x="300.9" y="632.0" width="20.7" height="4.3" rx="3.4" ry="2.1" fill="#000" opacity="1" filter="url(#bl1_2)"/>
<rect x="326.9" y="631.3" width="21.2" height="4.9" rx="3.9" ry="2.4" fill="#000" opacity="1" filter="url(#bl1_2)"/>
<rect x="239.8" y="619.8" width="112.10" height="29.00" filter="url(#nz)" opacity="0.08"/>
</g>
<rect x="240.3" y="620.3" width="111.10" height="28.00" fill="none" stroke="#333" stroke-width="1"/>
<linearGradient id="g16" x1="0" y1="0" x2="0" y2="1"><stop offset="0" stop-color="#f0f0f0"/><stop offset="1" stop-color="#f4f4f4"/></linearGradient>
<clipPath id="c16"><rect x="357.1" y="619.8" width="112.90" height="29.00"/></clipPath>
<rect x="357.1" y="619.8" width="112.90" height="29.00" fill="url(#g16)"/>
<g clip-path="url(#c16)">
<rect x="360.4" y="632.1" width="21.7" height="3.7" rx="3.0" ry="1.8" fill="#000" opacity="1" filter="url(#bl1_2)"/>
<rect x="386.4" y="631.9" width="23.7" height="5.1" rx="4.1" ry="2.5" fill="#000" opacity="1" filter="url(#bl1_2)"/>
<rect x="413.4" y="632.0" width="23.2" height="5.5" rx="4.4" ry="2.8" fill="#000" opacity="1" filter="url(#bl1_2)"/>
<rect x="441.4" y="632.4" width="23.7" height="5.7" rx="4.6" ry="2.8" fill="#000" opacity="1" filter="url(#bl1_2)"/>
<rect x="357.1" y="619.8" width="112.90" height="29.00" filter="url(#nz)" opacity="0.08"/>
</g>
<rect x="357.6" y="620.3" width="111.90" height="28.00" fill="none" stroke="#333" stroke-width="1"/>
<path d="M110.40 795.60V794.00M105.90 794.00H114.90" stroke="#1c1c1c" stroke-width="1.0" fill="none"/>
<rect x="101.95" y="795.85" width="16.90" height="63.25" fill="#df3a27" stroke="#000" stroke-width="1.6"/>
<path d="M137.25 759.30V749.40M132.75 749.40H141.75" stroke="#1c1c1c" stroke-width="1.0" fill="none"/>
<rect x="128.80" y="759.55" width="16.90" height="99.55" fill="#00bb00" stroke="#000" stroke-width="1.6"/>
<path d="M164.10 826.00V821.60M159.60 821.60H168.60" stroke="#1c1c1c" stroke-width="1.0" fill="none"/>
<rect x="155.65" y="826.25" width="16.90" height="32.85" fill="#4082c0" stroke="#000" stroke-width="1.6"/>
<path d="M190.95 782.90V780.00M186.45 780.00H195.45" stroke="#1c1c1c" stroke-width="1.0" fill="none"/>
<rect x="182.50" y="783.15" width="16.90" height="75.95" fill="#ffff00" stroke="#000" stroke-width="1.6"/>
<path d="M235.70 774.20V770.50M231.20 770.50H240.20" stroke="#1c1c1c" stroke-width="1.0" fill="none"/>
<rect x="227.25" y="774.45" width="16.90" height="84.65" fill="#df3a27" stroke="#000" stroke-width="1.6"/>
<path d="M262.55 831.30V826.00M258.05 826.00H267.05" stroke="#1c1c1c" stroke-width="1.0" fill="none"/>
<rect x="254.10" y="831.55" width="16.90" height="27.55" fill="#00bb00" stroke="#000" stroke-width="1.6"/>
<path d="M289.40 758.60V748.90M284.90 748.90H293.90" stroke="#1c1c1c" stroke-width="1.0" fill="none"/>
<rect x="280.95" y="758.85" width="16.90" height="100.25" fill="#4082c0" stroke="#000" stroke-width="1.6"/>
<path d="M316.25 787.60V783.90M311.75 783.90H320.75" stroke="#1c1c1c" stroke-width="1.0" fill="none"/>
<rect x="307.80" y="787.85" width="16.90" height="71.25" fill="#ffff00" stroke="#000" stroke-width="1.6"/>
<path d="M92.00 697.85V859.10H335.00" stroke="#000" stroke-width="1.6" fill="none"/>
<path d="M87.50 859.10H92.00" stroke="#000" stroke-width="1.5"/>
<text x="86" y="863.40" font-size="12" text-anchor="end" fill="#111" stroke="#111" stroke-width="0.18">0.0</text>
<path d="M87.50 805.57H92.00" stroke="#000" stroke-width="1.5"/>
<text x="86" y="809.87" font-size="12" text-anchor="end" fill="#111" stroke="#111" stroke-width="0.18">0.5</text>
<path d="M87.50 752.03H92.00" stroke="#000" stroke-width="1.5"/>
<text x="86" y="756.33" font-size="12" text-anchor="end" fill="#111" stroke="#111" stroke-width="0.18">1.0</text>
<path d="M87.50 698.50H92.00" stroke="#000" stroke-width="1.5"/>
<text x="86" y="702.80" font-size="12" text-anchor="end" fill="#111" stroke="#111" stroke-width="0.18">1.5</text>
<path d="M150.40 859.10V863.90" stroke="#000" stroke-width="1.5"/>
<path d="M276.00 859.10V863.90" stroke="#000" stroke-width="1.5"/>
<text x="275.7" y="876.5" font-size="12" text-anchor="middle" fill="#111" stroke="#111" stroke-width="0.18">P62</text>
<text x="206.2" y="691" font-size="12.4" text-anchor="middle" fill="#111" stroke="#111" stroke-width="0.18">U87</text>
<text transform="translate(59.3,778.80) rotate(-90)" font-size="13" text-anchor="middle" fill="#111" stroke="#111" stroke-width="0.18">Relative protein expression</text>
<path d="M136.50 727.60V735.40M191.50 727.60V735.40M136.50 731.50H191.50" stroke="#3a3a3a" stroke-width="1" fill="none"/>
<text x="164" y="724.00" font-size="11.8" text-anchor="middle" fill="#111" stroke="#111" stroke-width="0.4">#</text>
<path d="M259.50 731.60V739.40M319.50 731.60V739.40M259.50 735.50H319.50" stroke="#3a3a3a" stroke-width="1" fill="none"/>
<text x="289.1" y="727.60" font-size="11.8" text-anchor="middle" fill="#111" stroke="#111" stroke-width="0.4">#</text>
<text x="137.2" y="750.10" font-size="12.2" text-anchor="middle" fill="#111" stroke="#111" stroke-width="0.2">*</text>
<text x="262.3" y="825.50" font-size="12.2" text-anchor="middle" fill="#111" stroke="#111" stroke-width="0.2">*</text>
<path d="M433.10 785.40V779.40M428.60 779.40H437.60" stroke="#1c1c1c" stroke-width="1.0" fill="none"/>
<rect x="424.65" y="785.65" width="16.90" height="73.45" fill="#df3a27" stroke="#000" stroke-width="1.6"/>
<path d="M459.95 754.40V748.20M455.45 748.20H464.45" stroke="#1c1c1c" stroke-width="1.0" fill="none"/>
<rect x="451.50" y="754.65" width="16.90" height="104.45" fill="#00bb00" stroke="#000" stroke-width="1.6"/>
<path d="M486.80 826.80V825.30M482.30 825.30H491.30" stroke="#1c1c1c" stroke-width="1.0" fill="none"/>
<rect x="478.35" y="827.05" width="16.90" height="32.05" fill="#4082c0" stroke="#000" stroke-width="1.6"/>
<path d="M513.65 798.30V794.60M509.15 794.60H518.15" stroke="#1c1c1c" stroke-width="1.0" fill="none"/>
<rect x="505.20" y="798.55" width="16.90" height="60.55" fill="#ffff00" stroke="#000" stroke-width="1.6"/>
<path d="M558.30 742.50V738.20M553.80 738.20H562.80" stroke="#1c1c1c" stroke-width="1.0" fill="none"/>
<rect x="549.85" y="742.75" width="16.90" height="116.35" fill="#df3a27" stroke="#000" stroke-width="1.6"/>
<path d="M585.15 808.70V805.20M580.65 805.20H589.65" stroke="#1c1c1c" stroke-width="1.0" fill="none"/>
<rect x="576.70" y="808.95" width="16.90" height="50.15" fill="#00bb00" stroke="#000" stroke-width="1.6"/>
<path d="M612.00 732.50V727.60M607.50 727.60H616.50" stroke="#1c1c1c" stroke-width="1.0" fill="none"/>
<rect x="603.55" y="732.75" width="16.90" height="126.35" fill="#4082c0" stroke="#000" stroke-width="1.6"/>
<path d="M638.85 757.10V752.60M634.35 752.60H643.35" stroke="#1c1c1c" stroke-width="1.0" fill="none"/>
<rect x="630.40" y="757.35" width="16.90" height="101.75" fill="#ffff00" stroke="#000" stroke-width="1.6"/>
<path d="M415.10 697.85V859.10H657.60" stroke="#000" stroke-width="1.6" fill="none"/>
<path d="M410.60 859.10H415.10" stroke="#000" stroke-width="1.5"/>
<text x="408.6" y="863.40" font-size="12" text-anchor="end" fill="#111" stroke="#111" stroke-width="0.18">0.0</text>
<path d="M410.60 805.57H415.10" stroke="#000" stroke-width="1.5"/>
<text x="408.6" y="809.87" font-size="12" text-anchor="end" fill="#111" stroke="#111" stroke-width="0.18">0.5</text>
<path d="M410.60 752.03H415.10" stroke="#000" stroke-width="1.5"/>
<text x="408.6" y="756.33" font-size="12" text-anchor="end" fill="#111" stroke="#111" stroke-width="0.18">1.0</text>
<path d="M410.60 698.50H415.10" stroke="#000" stroke-width="1.5"/>
<text x="408.6" y="702.80" font-size="12" text-anchor="end" fill="#111" stroke="#111" stroke-width="0.18">1.5</text>
<path d="M472.90 859.10V863.90" stroke="#000" stroke-width="1.5"/>
<path d="M598.50 859.10V863.90" stroke="#000" stroke-width="1.5"/>
<text x="598.2" y="876.5" font-size="12" text-anchor="middle" fill="#111" stroke="#111" stroke-width="0.18">P62</text>
<text x="533.4" y="691" font-size="12.4" text-anchor="middle" fill="#111" stroke="#111" stroke-width="0.18">U118</text>
<text transform="translate(381.4,778.80) rotate(-90)" font-size="13" text-anchor="middle" fill="#111" stroke="#111" stroke-width="0.18">Relative protein expression</text>
<path d="M459.50 721.60V729.40M513.50 721.60V729.40M459.50 725.50H513.50" stroke="#3a3a3a" stroke-width="1" fill="none"/>
<text x="486.6" y="717.50" font-size="11.8" text-anchor="middle" fill="#111" stroke="#111" stroke-width="0.4">#</text>
<path d="M583.50 708.60V716.40M639.50 708.60V716.40M583.50 712.50H639.50" stroke="#3a3a3a" stroke-width="1" fill="none"/>
<text x="611.4" y="704.80" font-size="11.8" text-anchor="middle" fill="#111" stroke="#111" stroke-width="0.4">#</text>
<text x="459.8" y="748.50" font-size="12.2" text-anchor="middle" fill="#111" stroke="#111" stroke-width="0.2">*</text>
<text x="585.1" y="805.50" font-size="12.2" text-anchor="middle" fill="#111" stroke="#111" stroke-width="0.2">*</text>
<text x="130.3" y="876.5" font-size="12.3" text-anchor="start" fill="#111" stroke="#111" stroke-width="0.18">LC3B</text>
<path d="M164.20 868.60H170.00M164.20 876.00H170.00" stroke="#111" stroke-width="0.7" fill="none"/>
<path d="M165.77 868.60V876.00M168.43 868.60V876.00" stroke="#000" stroke-width="0.95" fill="none"/>
<text x="452.9" y="876.5" font-size="12.3" text-anchor="start" fill="#111" letter-spacing="0.7" stroke="#111" stroke-width="0.18">LC3B</text>
<path d="M489.70 868.60H495.80M489.70 876.00H495.80" stroke="#111" stroke-width="0.7" fill="none"/>
<path d="M491.35 868.60V876.00M494.15 868.60V876.00" stroke="#000" stroke-width="0.95" fill="none"/>
<rect x="86.00" y="899.00" width="16.00" height="7.60" fill="#df3a27" stroke="#000" stroke-width="1.2"/>
<text x="112.7" y="907.6" font-size="13" text-anchor="start" fill="#111" stroke="#111" stroke-width="0.18">Control</text>
<rect x="170.20" y="899.00" width="16.00" height="7.60" fill="#00bb00" stroke="#000" stroke-width="1.2"/>
<text x="197" y="907.6" font-size="13" text-anchor="start" fill="#111" stroke="#111" stroke-width="0.18">PF</text>
<rect x="86.00" y="929.60" width="16.00" height="7.60" fill="#4082c0" stroke="#000" stroke-width="1.2"/>
<text x="112.7" y="937.9" font-size="13" text-anchor="start" fill="#111" stroke="#111" stroke-width="0.18">SC79</text>
<rect x="170.20" y="929.60" width="16.00" height="7.60" fill="#ffff00" stroke="#000" stroke-width="1.2"/>
<text x="197" y="937.9" font-size="13" text-anchor="start" fill="#111" stroke="#111" stroke-width="0.18">PF+SC79</text>
<rect x="408.40" y="899.00" width="16.00" height="7.60" fill="#df3a27" stroke="#000" stroke-width="1.2"/>
<text x="435.4" y="907.6" font-size="13" text-anchor="start" fill="#111" stroke="#111" stroke-width="0.18">Control</text>
<rect x="493.20" y="899.00" width="16.00" height="7.60" fill="#00bb00" stroke="#000" stroke-width="1.2"/>
<text x="519.7" y="907.6" font-size="13" text-anchor="start" fill="#111" stroke="#111" stroke-width="0.18">PF</text>
<rect x="408.40" y="929.60" width="16.00" height="7.60" fill="#4082c0" stroke="#000" stroke-width="1.2"/>
<text x="435.4" y="937.9" font-size="13" text-anchor="start" fill="#111" stroke="#111" stroke-width="0.18">SC79</text>
<rect x="493.20" y="929.60" width="16.00" height="7.60" fill="#ffff00" stroke="#000" stroke-width="1.2"/>
<text x="519.7" y="937.9" font-size="13" text-anchor="start" fill="#111" stroke="#111" stroke-width="0.18">PF+SC79</text>
<text x="0.9" y="31" font-size="29" text-anchor="start" fill="#111" stroke="#111" stroke-width="0.5">A</text>
<text x="0.6" y="209.3" font-size="29" text-anchor="start" fill="#111" stroke="#111" stroke-width="0.5">B</text>
<text x="0.6" y="540.8" font-size="29.4" text-anchor="start" fill="#111" stroke="#111" stroke-width="0.5">C</text>
<text x="1.9" y="667.3" font-size="29" text-anchor="start" fill="#111" stroke="#111" stroke-width="0.5">D</text>
</svg>
</body></html>
